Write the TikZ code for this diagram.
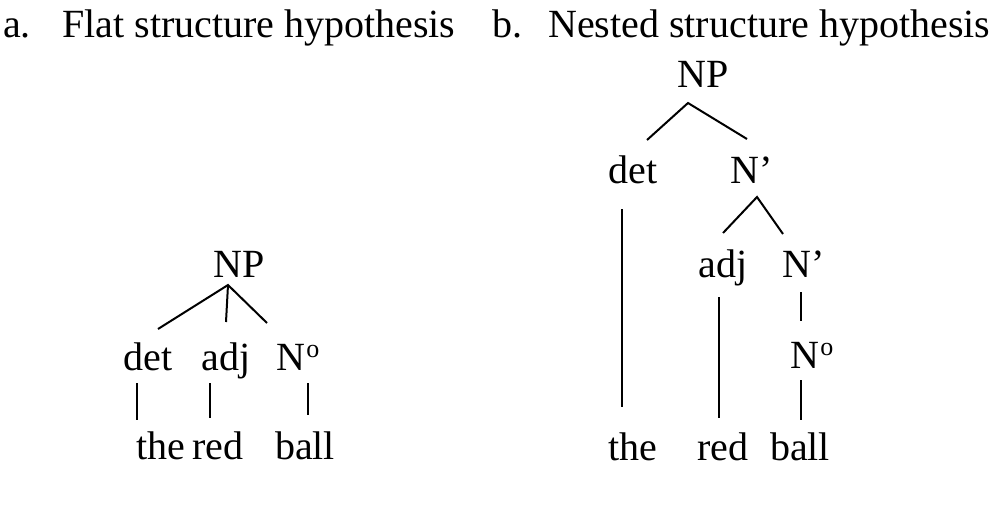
\documentclass[tikz,border=0pt]{standalone}
\usepackage{fontspec}
\setmainfont{Liberation Serif}
\usetikzlibrary{calc}
\tikzstyle{word}=[inner sep=0pt, anchor=base, font=\fontsize{40}{48}\selectfont]
\tikzstyle{branch}=[line width=2pt]
\newcommand{\nzero}{N\kern1pt\raisebox{13pt}{\fontsize{26}{26}\selectfont o}}

\begin{document}
\begin{tikzpicture}[x=1pt,y=-1pt]
      \useasboundingbox (0,0) rectangle (1003,522);
      % titles
      \node [word, anchor=base west] (la) at (3,37) {a.};
      \node [word, anchor=base west] (ta) at (62,37) {Flat structure hypothesis};
      \node [word, anchor=base west] (lb) at (492,37) {b.};
      \node [word, anchor=base west] (tb) at (548,37) {Nested structure hypothesis};

      % a. flat tree
      \node [word] (np1) at (239,277) {NP};
      \node [word] (det1) at (148,370) {det};
      \node [word] (adj1) at (226,370) {adj};
      \node [word] (n01) at (298,370) {\nzero};
      \node [word] (the1) at (161,459) {the};
      \node [word] (red1) at (218,459) {red};
      \node [word] (ball1) at (305,459) {ball};
      \draw [branch] ($(det1.base)+(10,-41)$) -- ($(np1.base)+(-11,8)$) -- ($(n01.base)+(-31,-47)$);
      \draw [branch] ($(np1.base)+(-11,8)$) -- ($(adj1.base)+(0,-48)$);
      \draw [branch] ($(det1.base)+(-11,13)$) -- ($(the1.base)+(-24,-39)$);
      \draw [branch] ($(adj1.base)+(-16,13)$) -- ($(red1.base)+(-8,-41)$);
      \draw [branch] ($(n01.base)+(10,13)$) -- ($(ball1.base)+(3,-44)$);

      % b. nested tree
      \node [word] (np2) at (703,87) {NP};
      \node [word] (det2) at (633,183) {det};
      \node [word] (nb1) at (752,183) {N’};
      \node [word] (adj2) at (723,277) {adj};
      \node [word] (nb2) at (804,277) {N’};
      \node [word] (n02) at (812,368) {\nzero};
      \node [word] (the2) at (633,460) {the};
      \node [word] (red2) at (723,460) {red};
      \node [word] (ball2) at (800,460) {ball};
      \draw [branch] ($(det2.base)+(14,-43)$) -- ($(np2.base)+(-15,16)$) -- ($(nb1.base)+(-5,-44)$);
      \draw [branch] ($(adj2.base)+(0,-44)$) -- ($(nb1.base)+(5,14)$) -- ($(nb2.base)+(-21,-43)$);
      \draw [branch] ($(det2.base)+(-11,26)$) -- ($(the2.base)+(-11,-53)$);
      \draw [branch] ($(adj2.base)+(-4,20)$) -- ($(red2.base)+(-4,-42)$);
      \draw [branch] ($(nb2.base)+(-3,15)$) -- ($(n02.base)+(-11,-47)$);
      \draw [branch] ($(n02.base)+(-11,12)$) -- ($(ball2.base)+(1,-40)$);
\end{tikzpicture}
\end{document}
